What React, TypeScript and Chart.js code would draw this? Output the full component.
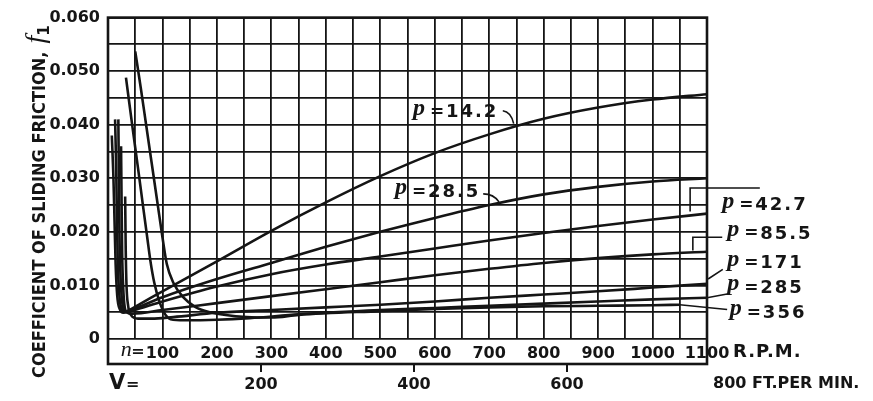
import { useEffect, useRef } from "react";
import { Chart, registerables } from "chart.js";

Chart.register(...registerables);

// friction coefficient f1 against journal speed n (r.p.m.), one curve per bearing pressure p
const n142 = [7, 10, 12, 14, 17, 22, 28, 35, 60, 100, 200, 300, 400, 500, 600, 700, 800, 900, 1000, 1100];
const f142 = [0.038, 0.03, 0.022, 0.014, 0.008, 0.0055, 0.0049, 0.0052, 0.0066, 0.0089, 0.0145, 0.0202, 0.0255, 0.0304, 0.0347, 0.0382, 0.0411, 0.0432, 0.0447, 0.0457];

const n285 = [13, 15, 16.5, 18, 21, 25, 30, 40, 100, 200, 300, 400, 500, 600, 700, 800, 900, 1000, 1100];
const f285 = [0.041, 0.032, 0.022, 0.014, 0.008, 0.0056, 0.005, 0.0053, 0.0078, 0.0112, 0.0142, 0.0172, 0.02, 0.0226, 0.025, 0.027, 0.0284, 0.0294, 0.03];

const n427 = [19, 20, 21, 22.5, 25, 28, 33, 45, 100, 200, 300, 400, 500, 600, 700, 800, 900, 1000, 1100];
const f427 = [0.041, 0.03, 0.02, 0.013, 0.008, 0.0058, 0.005, 0.0053, 0.007, 0.0098, 0.0121, 0.0139, 0.0154, 0.0169, 0.0184, 0.0198, 0.0211, 0.0223, 0.0234];

const n855 = [24, 25, 26, 28, 30, 34, 45, 100, 200, 300, 400, 500, 600, 700, 800, 900, 1000, 1100];
const f855 = [0.036, 0.025, 0.016, 0.0095, 0.0065, 0.005, 0.0047, 0.0054, 0.0067, 0.008, 0.0093, 0.0106, 0.0119, 0.0131, 0.0142, 0.0151, 0.0158, 0.0163];

const n171 = [31.5, 32.5, 34, 37, 42, 55, 80, 120, 200, 300, 400, 500, 600, 700, 800, 900, 1000, 1100];
const f171 = [0.0266, 0.017, 0.01, 0.0062, 0.0045, 0.0038, 0.0038, 0.0041, 0.0049, 0.0054, 0.0059, 0.0064, 0.007, 0.0077, 0.0083, 0.0089, 0.0096, 0.0103];

const n2850 = [33, 45, 55, 65, 72, 78, 85, 95, 105, 115, 140, 200, 260, 350, 500, 600, 700, 800, 900, 1000, 1100];
const f2850 = [0.0488, 0.0395, 0.032, 0.0243, 0.019, 0.0145, 0.0105, 0.0068, 0.0046, 0.0037, 0.0035, 0.0036, 0.0039, 0.0046, 0.0054, 0.0058, 0.0062, 0.0066, 0.007, 0.0074, 0.0077];

const n356 = [50, 60, 70, 80, 90, 100, 108, 120, 138, 160, 187, 255, 300, 350, 500, 600, 700, 800, 900, 1000, 1050];
const f356 = [0.0537, 0.047, 0.04, 0.033, 0.026, 0.019, 0.014, 0.0105, 0.0078, 0.006, 0.005, 0.0041, 0.004, 0.0045, 0.0052, 0.0056, 0.0059, 0.0061, 0.0062, 0.0063, 0.0064];

const rpmLabels = [100, 200, 300, 400, 500, 600, 700, 800, 900, 1000, 1100];
const frictionLabels = [0, 0.01, 0.02, 0.03, 0.04, 0.05, 0.06];
const speedLabels = [200, 400, 600];
const speedAt1100 = 783; // ft. per min. at 1100 r.p.m.

const series = [
  { p: "14.2", n: n142, f: f142 },
  { p: "28.5", n: n285, f: f285 },
  { p: "42.7", n: n427, f: f427 },
  { p: "85.5", n: n855, f: f855 },
  { p: "171", n: n171, f: f171 },
  { p: "285", n: n2850, f: f2850 },
  { p: "356", n: n356, f: f356 },
];

const ink = "#151515";
const sans = "'DejaVu Sans'";
const tickFont = { family: sans, size: 16, weight: "bold" as const };

function pLabel(ctx: CanvasRenderingContext2D, left: number, cy: number, value: string) {
  ctx.font = "italic bold 24px 'Liberation Serif'";
  ctx.textAlign = "left";
  ctx.textBaseline = "middle";
  ctx.fillText("p", left, cy - 4);
  const w = ctx.measureText("p").width;
  ctx.font = `bold 17px ${sans}`;
  ctx.fillText("=", left + w + 5, cy);
  ctx.font = `bold 18px ${sans}`;
  ctx.letterSpacing = "2px";
  ctx.fillText(value, left + w + 21, cy);
  ctx.letterSpacing = "0px";
}

const notes = {
  id: "notes",
  afterDraw(chart: Chart) {
    const { ctx, chartArea: a } = chart;
    const x = chart.scales.x;
    const y = chart.scales.y;
    const v = chart.scales.v;
    const px = (n: number) => x.getPixelForValue(n);
    const py = (f: number) => y.getPixelForValue(f);

    ctx.save();
    ctx.strokeStyle = ink;
    ctx.fillStyle = ink;

    // frame, with the strip holding the r.p.m. figures
    ctx.lineWidth = 2.6;
    ctx.strokeRect(a.left, a.top, a.right - a.left, x.bottom - a.top);

    // leaders
    ctx.lineWidth = 1.6;
    ctx.beginPath();
    ctx.moveTo(px(725), py(0.0426));
    ctx.quadraticCurveTo(px(740), py(0.0424), px(745), py(0.0402));
    ctx.moveTo(px(689), py(0.0271));
    ctx.quadraticCurveTo(px(708), py(0.0271), px(718), py(0.0256));
    ctx.moveTo(px(1069), py(0.0238));
    ctx.lineTo(px(1069), py(0.0282));
    ctx.lineTo(px(1197), py(0.0282));
    ctx.moveTo(px(1074), py(0.0165));
    ctx.lineTo(px(1074), py(0.019));
    ctx.lineTo(px(1128), py(0.019));
    ctx.moveTo(px(1102), py(0.0112));
    ctx.lineTo(px(1129), py(0.013));
    ctx.moveTo(px(1100), py(0.0077));
    ctx.lineTo(px(1137), py(0.0084));
    ctx.moveTo(px(1050), py(0.0064));
    ctx.lineTo(px(1137), py(0.0055));
    ctx.stroke();

    // pressure labels
    pLabel(ctx, px(560), py(0.0423), "14.2");
    pLabel(ctx, px(527), py(0.0274), "28.5");
    pLabel(ctx, px(1128), py(0.0249), "42.7");
    pLabel(ctx, px(1137), py(0.0196), "85.5");
    pLabel(ctx, px(1137), py(0.0141), "171");
    pLabel(ctx, px(1137), py(0.0095), "285");
    pLabel(ctx, px(1142), py(0.0048), "356");

    // n = ... R.P.M.
    const rowY = a.bottom + 13;
    ctx.font = `bold 16px ${sans}`;
    ctx.textBaseline = "middle";
    const first = px(100) - ctx.measureText("100").width / 2;
    ctx.textAlign = "right";
    ctx.fillText("=", first - 1, rowY);
    ctx.font = "italic 22px 'Liberation Serif'";
    ctx.fillText("n", first - 14, rowY - 2);
    ctx.font = `bold 18px ${sans}`;
    ctx.textAlign = "left";
    ctx.letterSpacing = "1px";
    ctx.fillText("R.P.M.", px(1100) + 26, rowY);
    ctx.letterSpacing = "0px";

    // V = ... FT. PER MIN.
    const vY = v.top + 20;
    ctx.font = `bold 21px ${sans}`;
    ctx.fillText("V", a.left + 1, vY);
    ctx.font = `bold 16px ${sans}`;
    ctx.fillText("=", a.left + 18, vY + 1);
    ctx.fillText("800 FT.PER MIN.", a.right + 6, vY);

    // axis title
    ctx.translate(40, 378);
    ctx.rotate(-Math.PI / 2);
    ctx.font = `bold 18px 'DejaVu Sans Condensed', ${sans}`;
    ctx.textAlign = "left";
    ctx.textBaseline = "middle";
    const title = "COEFFICIENT OF SLIDING FRICTION,";
    ctx.fillText(title, 0, 0);
    const tw = ctx.measureText(title).width;
    ctx.font = "italic 28px 'Liberation Serif'";
    ctx.fillText("f", tw + 8, -3);
    const fw = ctx.measureText("f").width;
    ctx.font = `bold 15px ${sans}`;
    ctx.fillText("1", tw + 8 + fw, 5);
    ctx.restore();
  },
};

export default function App() {
  const canvasRef = useRef<HTMLCanvasElement | null>(null);

  useEffect(() => {
    document.body.style.margin = "0";
    const ctx = canvasRef.current?.getContext("2d");
    if (!ctx) return;

    const chart = new Chart(ctx, {
      type: "line",
      data: {
        datasets: series.map((s) => ({
          label: "p = " + s.p,
          data: s.n.map((n, i) => ({ x: n, y: s.f[i] })),
          borderColor: ink,
          borderWidth: 2.6,
          pointRadius: 0,
          cubicInterpolationMode: "monotone" as const,
          fill: false,
        })),
      },
      options: {
        responsive: true,
        maintainAspectRatio: false,
        animation: false,
        events: [],
        layout: { padding: { top: 11, right: 166, left: 0, bottom: 0 } },
        plugins: { legend: { display: false }, tooltip: { enabled: false } },
        scales: {
          x: {
            type: "linear",
            position: "bottom",
            min: 0,
            max: 1100,
            weight: 0,
            afterFit: (s) => {
              s.height = 25;
            },
            grid: { color: ink, lineWidth: 1.8, drawTicks: false },
            border: { display: false },
            ticks: {
              stepSize: 50,
              autoSkip: false,
              maxRotation: 0,
              padding: 5,
              color: ink,
              font: tickFont,
              callback: (val) => (rpmLabels.includes(Number(val)) ? String(val) : ""),
            },
          },
          v: {
            type: "linear",
            position: "bottom",
            min: 0,
            max: speedAt1100,
            weight: 1,
            afterFit: (s) => {
              s.height = 37;
            },
            afterBuildTicks: (s) => {
              s.ticks = speedLabels.map((value) => ({ value }));
            },
            grid: { drawOnChartArea: false, drawTicks: true, tickLength: 8, color: ink, lineWidth: 2 },
            border: { display: false },
            ticks: { autoSkip: false, maxRotation: 0, padding: 3, color: ink, font: tickFont },
          },
          y: {
            type: "linear",
            min: 0,
            max: 0.06,
            afterFit: (s) => {
              s.width = 108;
            },
            grid: { color: ink, lineWidth: 1.8, drawTicks: false },
            border: { display: false },
            ticks: {
              stepSize: 0.005,
              autoSkip: false,
              padding: 8,
              color: ink,
              font: tickFont,
              callback: (val) => {
                const f = Math.round(Number(val) * 1000) / 1000;
                if (!frictionLabels.includes(f)) return "";
                return f === 0 ? "0" : f.toFixed(3);
              },
            },
          },
        },
      },
      plugins: [notes],
    });
    return () => chart.destroy();
  }, []);

  return (
    <div style={{ width: 873, height: 401, position: "relative" }}>
      <canvas ref={canvasRef}></canvas>
    </div>
  );
}
